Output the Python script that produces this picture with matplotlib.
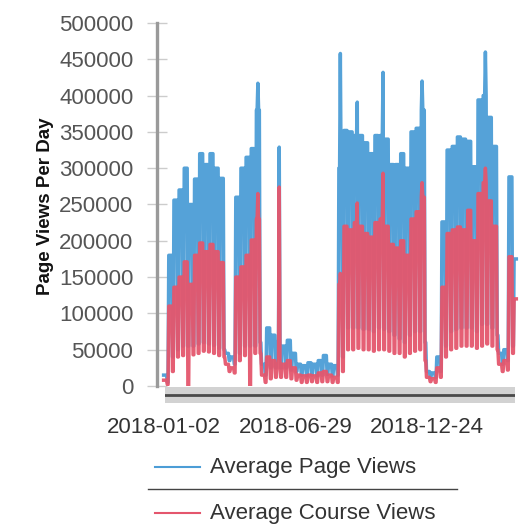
import numpy as np
import matplotlib
matplotlib.use("Agg")
import matplotlib.pyplot as plt
from matplotlib.lines import Line2D

plt.rcParams['font.family'] = ['Liberation Sans', 'DejaVu Sans']

# weekly values, in thousands (weeks start Monday 2018-01-01)
# peak = weekday level, low = weekend level
page_peak = [15, 180, 256, 270, 300, 250, 285, 320, 305, 320, 300, 286, 45, 40,
             260, 300, 315, 327, 380, 30, 80, 70, 60, 55, 63, 45,
             30, 28, 32, 30, 35, 42, 30, 28,
             300, 352, 350, 345, 345, 335, 320, 345, 345, 340, 305, 305, 320, 300, 350, 355, 380,
             20, 18, 40, 226, 325, 330, 343, 340, 337, 302, 394, 400, 370, 330, 45, 50, 288, 175]
page_low = [5, 40, 50, 55, 55, 55, 58, 60, 58, 56, 52, 50, 35, 30,
            45, 55, 55, 55, 60, 15, 25, 25, 25, 25, 22, 20,
            15, 14, 15, 14, 15, 16, 14, 15,
            40, 80, 80, 80, 78, 78, 75, 80, 78, 75, 70, 65, 60, 70, 75, 75, 60,
            12, 12, 20, 55, 75, 78, 80, 80, 80, 75, 85, 85, 80, 70, 30, 35, 55, 55]
course_peak = [8, 110, 136, 150, 171, 140, 180, 197, 185, 195, 185, 170, 30, 25,
               150, 164, 180, 201, 230, 15, 40, 35, 30, 30, 35, 25,
               15, 14, 15, 14, 18, 20, 15, 12,
               140, 220, 215, 225, 220, 210, 205, 225, 230, 220, 195, 190, 200, 180, 230, 240, 260,
               12, 10, 25, 136, 210, 215, 219, 215, 242, 200, 265, 280, 255, 220, 30, 35, 178, 120]
course_low = [2, 20, 40, 42, 0, 43, 45, 48, 47, 45, 42, 40, 20, 18,
              35, 42, 0, 45, 45, 5, 10, 12, 12, 12, 10, 8,
              5, 5, 6, 5, 6, 6, 5, 5,
              20, 50, 50, 52, 50, 50, 48, 50, 50, 48, 45, 45, 40, 45, 48, 50, 35,
              6, 5, 12, 40, 50, 52, 55, 55, 55, 52, 55, 58, 55, 50, 20, 22, 45, 45]

# single-day spikes
spike_dates = ['2018-05-09', '2018-06-07', '2018-08-29', '2018-09-21',
               '2018-10-26', '2018-12-18', '2019-03-14']
spike_page = [417, 329, 458, 391, 432, 420, 460]
spike_course = [265, 274, 155, 252, 293, 280, 300]

tick_dates = ['2018-01-02', '2018-06-29', '2018-12-24']

start = np.datetime64('2018-01-01')
n_days = 480
dates = start + np.arange(n_days)
week = np.arange(n_days) // 7
weekend = (np.arange(n_days) % 7) >= 5

page = np.where(weekend, np.array(page_low)[week], np.array(page_peak)[week]) * 1000.0
course = np.where(weekend, np.array(course_low)[week], np.array(course_peak)[week]) * 1000.0
for d, p, c in zip(spike_dates, spike_page, spike_course):
    i = int((np.datetime64(d) - start).astype(int))
    page[i] = p * 1000
    course[i] = c * 1000

W, H = 525, 527
fig = plt.figure(figsize=(W / 100, H / 100), dpi=100)
ax = fig.add_axes([157 / W, 1 - 386 / H, 363 / W, 363 / H])

ax.plot(dates, page, color='#4c9dd6', lw=2.5, alpha=0.95)
ax.plot(dates, course, color='#e4566d', lw=2.5, alpha=0.95)

ax.set_ylim(0, 500000)
ax.set_xlim(start - np.timedelta64(9, 'D'), start + np.timedelta64(484, 'D'))
ax.set_yticks(np.arange(0, 500001, 50000))
ax.set_yticklabels([str(v) for v in range(0, 500001, 50000)])
ax.set_xticks([np.datetime64(t) for t in tick_dates])
ax.set_xticklabels(tick_dates)

for s in ['top', 'right', 'bottom']:
    ax.spines[s].set_visible(False)
ax.spines['left'].set_color('#9a9a9a')
ax.spines['left'].set_linewidth(2.4)
ax.tick_params(axis='y', direction='inout', length=14, width=1, color='#cccccc',
               labelsize=16, labelcolor='#555555', pad=10)
ax.tick_params(axis='x', length=0, labelsize=16, labelcolor='#333333', pad=22)

fig.text(46 / W, 1 - 206 / H, 'Page Views Per Day', rotation=90, fontsize=13.5,
         fontweight='bold', ha='center', va='center', color='#111111')

# range band under the plot
band = fig.add_axes([165 / W, 1 - 403 / H, 350 / W, 16 / H])
band.set_facecolor('#d2d2d2')
band.axhline(0.5, color='#4a4a4a', lw=2)
band.set_xticks([])
band.set_yticks([])
for s in band.spines.values():
    s.set_visible(False)

# legend
def fy(y):
    return 1 - y / H

fig.add_artist(Line2D([155 / W, 200 / W], [fy(467), fy(467)], color='#4c9dd6', lw=1.5))
fig.text(210 / W, fy(467), 'Average Page Views', fontsize=16, color='#333333', va='center')
fig.add_artist(Line2D([148 / W, 457 / W], [fy(489), fy(489)], color='#444444', lw=1))
fig.add_artist(Line2D([155 / W, 200 / W], [fy(513), fy(513)], color='#e4566d', lw=1.5))
fig.text(210 / W, fy(513), 'Average Course Views', fontsize=16, color='#333333', va='center')

fig.savefig('out.png', dpi=100)
